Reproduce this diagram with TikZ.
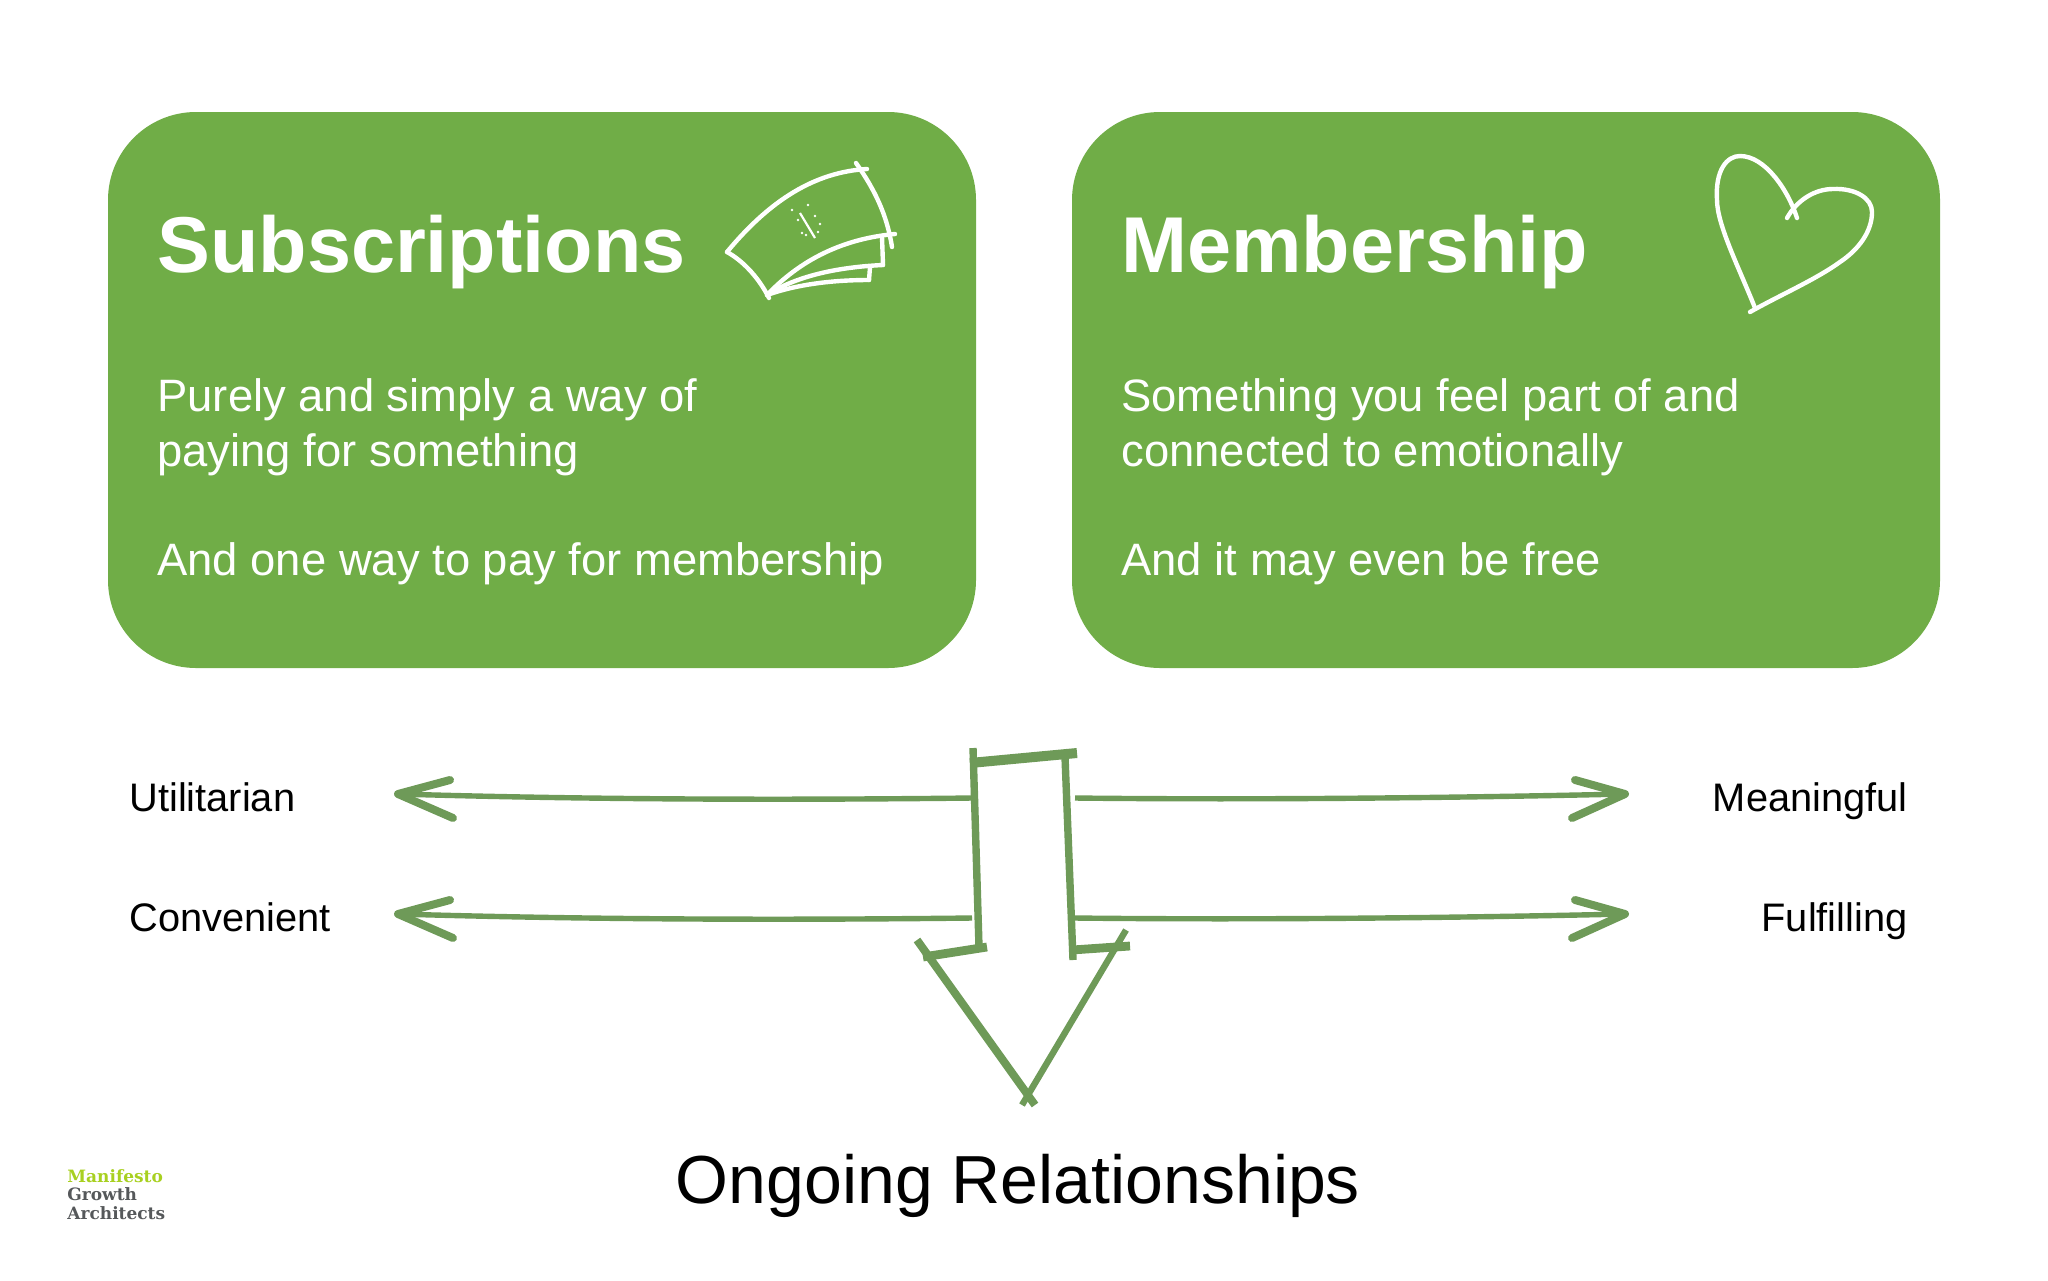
\documentclass[tikz,border=0pt]{standalone}
\usepackage{fontspec}
\setmainfont{Liberation Sans}
\newfontfamily\logofont{DejaVu Serif}
\definecolor{boxgreen}{HTML}{70AD47}
\definecolor{sketchgreen}{HTML}{6E9A58}
\definecolor{logolime}{HTML}{A8D020}
\definecolor{logogrey}{HTML}{55585A}
\newcommand{\fsize}[1]{\fontsize{#1}{#1}\selectfont}

\begin{document}
\begin{tikzpicture}[x=0.5pt,y=-0.5pt]
    \tikzstyle{panel}=[fill=boxgreen,rounded corners=44pt,minimum width=434pt,minimum height=278pt,inner sep=0pt]
    \tikzstyle{title}=[anchor=base west,text=white,inner sep=0pt,font=\fsize{39.6}\bfseries]
    \tikzstyle{body}=[anchor=base west,text=white,inner sep=0pt,font=\fsize{22.7}]
    \tikzstyle{pole}=[inner sep=0pt,font=\fsize{19.9}]
    \tikzstyle{shaft}=[draw=sketchgreen,line width=2.7pt]
    \tikzstyle{barb}=[draw=sketchgreen,line width=4pt,line cap=round,line join=round]
    \tikzstyle{sketch}=[draw=sketchgreen,line width=3.7pt]
    \tikzstyle{chalk}=[draw=white,line width=2.2pt,line cap=round]
    \tikzstyle{logotext}=[anchor=base west,inner sep=0pt,font=\logofont\fsize{8.5}\bfseries]
\useasboundingbox (0,0) rectangle (2048,1280);

\node[panel] (subs) at (542,390) {};
\node[panel] (memb) at (1506,390) {};

\node[title] (substitle) at (157,272) {Subscriptions};
\node[body] (subsa) at (157,411) {Purely and simply a way of};
\node[body] (subsb) at (157,466) {paying for something};
\node[body] (subsc) at (157,575) {And one way to pay for membership};

\node[title] (membtitle) at (1121,272) {Membership};
\node[body] (memba) at (1121,411) {Something you feel part of and};
\node[body] (membb) at (1121,466) {connected to emotionally};
\node[body] (membc) at (1121,575) {And it may even be free};

\node[pole,anchor=base west] (util) at (129,811) {Utilitarian};
\node[pole,anchor=base west] (conv) at (129,931) {Convenient};
\node[pole,anchor=base east] (mean) at (1908,811) {Meaningful};
\node[pole,anchor=base east] (fulf) at (1908,931) {Fulfilling};

\node[anchor=base,inner sep=0pt,font=\fsize{34}] (ongoing) at (1018,1203) {Ongoing Relationships};

\node[logotext,text=logolime] (logoa) at (67,1182) {Manifesto};
\node[logotext,text=logogrey] (logob) at (67,1200) {Growth};
\node[logotext,text=logogrey] (logoc) at (67,1219) {Architects};

% left and right arrows
\coordinate (utiltip) at (398,794);
\coordinate (utilend) at (972,798);
\coordinate (convtip) at (398,914);
\coordinate (convend) at (972,918);
\coordinate (meantip) at (1625,794);
\coordinate (meanend) at (1075,798);
\coordinate (fulftip) at (1625,914);
\coordinate (fulfend) at (1075,918);

\draw[shaft] (utiltip) .. controls (600,800) and (800,800) .. (utilend);
\draw[shaft] (convtip) .. controls (600,920) and (800,920) .. (convend);
\draw[shaft] (meanend) .. controls (1250,800) and (1450,798) .. (meantip);
\draw[shaft] (fulfend) .. controls (1250,920) and (1450,918) .. (fulftip);

\draw[barb] (450,780) -- (utiltip) -- (453,818);
\draw[barb] (450,900) -- (convtip) -- (453,938);
\draw[barb] (1575,780) -- (meantip) -- (1572,818);
\draw[barb] (1575,900) -- (fulftip) -- (1572,938);

% big arrow
\coordinate (topleft) at (973,748);
\coordinate (stepleft) at (979,947);
\coordinate (barleft) at (970,763);
\coordinate (barright) at (1077,753);
\coordinate (topright) at (1065,757);
\coordinate (stepright) at (1073,960);
\coordinate (ledgea) at (987,947);
\coordinate (ledgeb) at (923,957);
\coordinate (ledgec) at (1072,950);
\coordinate (ledged) at (1130,946);
\coordinate (wingleft) at (917,940);
\coordinate (wingright) at (1126,930);
\coordinate (pointa) at (1035,1105);
\coordinate (pointb) at (1022,1105);

\draw[sketch] (topleft) -- (stepleft);
\draw[sketch,line width=5pt] (barleft) -- (barright);
\draw[sketch] (topright) -- (stepright);
\draw[sketch,line width=4.4pt] (ledgea) -- (ledgeb);
\draw[sketch,line width=4.4pt] (ledgec) -- (ledged);
\draw[sketch,line width=4pt] (wingleft) -- (pointa);
\draw[sketch,line width=3.2pt] (wingright) -- (pointb);

% book
\draw[chalk] (727,252) .. controls (770,200) and (815,172) .. (867,169);
\draw[chalk] (856,163) .. controls (875,190) and (887,215) .. (892,247);
\draw[chalk] (727,252) .. controls (745,262) and (760,280) .. (769,298);
\draw[chalk] (767,295) .. controls (805,255) and (850,238) .. (895,234);
\draw[chalk] (882,237) -- (883,265);
\draw[chalk] (770,293) .. controls (800,275) and (840,267) .. (883,265);
\draw[chalk] (870,267) -- (869,280);
\draw[chalk] (767,295) .. controls (795,285) and (830,280) .. (869,280);
\draw[draw=white,line width=1.1pt] (800,213) -- (815,238);
\foreach \dotx/\doty in {792/210,808/205,798/220,815/216,820/224,802/233,806/235,818/232}
    \fill[white] (\dotx,\doty) circle (0.7pt);

% heart
\draw[chalk] (1755,308) .. controls (1740,270) and (1717,225) .. (1717,200)
    .. controls (1715,170) and (1727,156) .. (1740,156)
    .. controls (1765,156) and (1788,190) .. (1797,218);
\draw[chalk] (1787,218) .. controls (1797,200) and (1815,189) .. (1833,189)
    .. controls (1855,188) and (1872,198) .. (1872,212)
    .. controls (1872,232) and (1858,250) .. (1840,262)
    .. controls (1815,280) and (1780,295) .. (1750,312);
\end{tikzpicture}
\end{document}
